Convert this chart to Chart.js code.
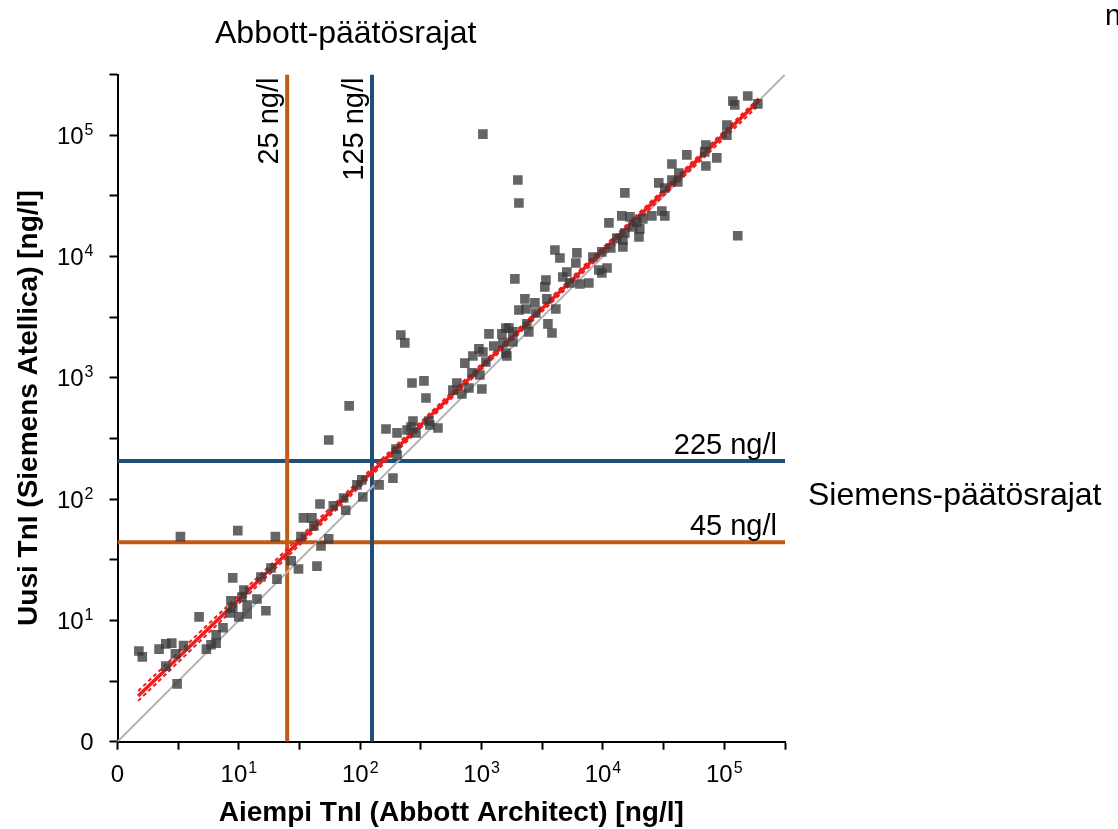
<!DOCTYPE html>
<html lang="fi">
<head>
<meta charset="UTF-8">
<title>Abbott vs Siemens TnI</title>
<style>
  body { margin: 0; background: #fff; }
  #wrap { width: 1118px; height: 829px; }
</style>
</head>
<body>
<div id="wrap"><canvas id="chart" width="1118" height="829"></canvas></div>
<script src="https://cdn.jsdelivr.net/npm/chart.js@4.4.1/dist/chart.umd.min.js"></script>
<script>
// paired samples, ng/l
const abbottValues = [
  1.5, 1.6, 2.2, 2.5, 2.8, 2.5, 3.0, 3.5, 3.1, 4.7, 5.4, 5.9, 6.5, 6.5, 7.4, 8.6, 8.9, 8.9, 10.0, 11.0,
  10.6, 11.7, 11.7, 14.1, 15.2, 16.7, 18.4, 20.6, 20, 9.8, 3.3, 27, 31, 44, 32.5, 47.5, 55, 34, 40, 41.5,
  46.6, 60, 76, 8.5,
  216, 233, 81, 55, 267, 335, 348, 163, 201, 272, 262, 288, 243, 368, 375, 437, 197, 201, 186, 143,
  105, 103, 94, 73, 626, 580, 688, 786, 1005, 728, 848, 950, 1025, 832, 968, 1085, 1150, 1470, 1260, 1585,
  1500, 1585,
  1025, 1990, 2030, 1680, 1810, 1810, 1615, 1880, 2275, 2750, 3450, 4090, 2030, 2320, 2800, 3520, 3800, 2360, 2450, 3390,
  3320, 4020, 6100, 4420, 5980, 4670, 5040, 5340, 6450, 7650, 8260, 9790, 9790, 10800, 9250, 11600, 13000, 14600, 14600, 15150,
  19800, 20100, 17600, 19000, 21300, 16700, 14300, 11200, 15150, 25300, 32350, 30550, 28850, 32350, 37000, 41400, 42200, 37000, 49100, 70500,
  86700, 69000, 70500, 105000, 105000, 117500, 156000, 122000, 189000, 129000
];
const siemensValues = [
  5.6, 5.0, 5.8, 6.4, 6.5, 4.2, 5.3, 6.2, 3.0, 10.7, 5.8, 6.3, 6.5, 7.6, 8.7, 14.5, 12.7, 22.4, 10.7, 17.8,
  15.6, 13.4, 11.3, 15.0, 22.8, 12.0, 27, 21.9, 49, 55, 49, 31, 26.5, 28, 49, 41, 47, 70, 70, 60,
  91, 88, 81, 11.5,
  2250, 1940, 586, 307, 906, 942, 681, 378, 351, 440, 393, 351, 371, 440, 408, 385, 259, 231, 149, 131,
  104, 144, 131, 102, 906, 793, 735, 824, 809, 1320, 1510, 1730, 1630, 1100, 1055, 1350, 2300, 2300, 1830, 2575,
  1940, 1600,
  102000, 42700, 27600, 2575, 2390, 1970, 1510, 6530, 4470, 4140, 4470, 3690, 3620, 3690, 3420, 2780, 2340, 2780, 2390, 6400,
  5610, 11300, 10700, 9720, 8840, 6780, 7450, 6050, 5930, 6050, 9900, 10900, 7310, 8040, 7740, 11750, 14200, 12000, 13700, 15600,
  14500, 16900, 17500, 19200, 20400, 21200, 21600, 18900, 33400, 21600, 21600, 23700, 40400, 36700, 42700, 41100, 48800, 57900, 68700, 55700,
  64900, 72800, 83000, 121000, 100000, 191000, 210000, 177500, 181000, 14800
];

// regression line and its confidence band
const fitX = [1.48, 196000];
const fitY = [2.38, 195000];
const bandX = [1.48, 1000, 196000];
const bandUpperY = [2.62, 1300, 206000];
const bandLowerY = [2.17, 1175, 180000];

// decision limits
const abbottLimits = [25, 125];
const abbottLimitLabels = ['25 ng/l', '125 ng/l'];
const siemensLimits = [206, 44];
const siemensLimitLabels = ['225 ng/l', '45 ng/l'];

// axes
const axisMin = 1;
const axisMax = 316228;
const tickValues = [1, 3.162, 10, 31.62, 100, 316.2, 1000, 3162, 10000, 31623, 100000, 316228];
const tickLabels = ['0', '', '10^1', '', '10^2', '', '10^3', '', '10^4', '', '10^5', ''];

const ORANGE = '#c65911';
const BLUE = '#1f4e79';
const RED = '#ee1c1c';
const FONT = '"Liberation Sans", Arial, sans-serif';

function pairs(xs, ys) {
  return xs.map((v, i) => ({ x: v, y: ys[i] }));
}

const limitDatasets = [];
abbottLimits.forEach((v, i) => {
  limitDatasets.push({
    data: [{ x: v, y: axisMin }, { x: v, y: axisMax }],
    borderColor: i === 0 ? ORANGE : BLUE,
    borderWidth: 4, showLine: true, pointRadius: 0
  });
});
siemensLimits.forEach((v, i) => {
  limitDatasets.push({
    data: [{ x: axisMin, y: v }, { x: axisMax, y: v }],
    borderColor: i === 0 ? BLUE : ORANGE,
    borderWidth: 4, showLine: true, pointRadius: 0
  });
});

// "10" with a raised exponent, like the original axis labels
function drawPowerLabel(ctx, label, px, baseline, align) {
  const parts = label.split('^');
  ctx.font = '24px ' + FONT;
  const bw = ctx.measureText(parts[0]).width;
  let ew = 0;
  if (parts[1]) {
    ctx.font = '16px ' + FONT;
    ew = ctx.measureText(parts[1]).width + 1;
  }
  const left = align === 'center' ? px - (bw + ew) / 2 : px - (bw + ew);
  ctx.font = '24px ' + FONT;
  ctx.fillText(parts[0], left, baseline);
  if (parts[1]) {
    ctx.font = '16px ' + FONT;
    ctx.fillText(parts[1], left + bw + 1, baseline - 9);
  }
}

const labelPlugin = {
  id: 'limitLabels',
  afterDraw(chart) {
    const { ctx, chartArea, scales: { x, y } } = chart;
    ctx.save();
    ctx.fillStyle = '#000';
    ctx.textBaseline = 'alphabetic';
    ctx.textAlign = 'left';

    // tick labels
    tickValues.forEach((v, i) => {
      if (!tickLabels[i]) return;
      drawPowerLabel(ctx, tickLabels[i], x.getPixelForValue(v), chartArea.bottom + 40, 'center');
      drawPowerLabel(ctx, tickLabels[i], chartArea.left - 24, y.getPixelForValue(v) + 8.5, 'right');
    });

    ctx.font = '29px ' + FONT;
    // vertical Abbott limits, rotated text next to the line
    abbottLimits.forEach((v, i) => {
      const px = x.getPixelForValue(v);
      ctx.save();
      ctx.translate(px - 9, chartArea.top + 3);
      ctx.rotate(-Math.PI / 2);
      ctx.textAlign = 'right';
      ctx.fillText(abbottLimitLabels[i], 0, 0);
      ctx.restore();
    });

    // horizontal Siemens limits
    ctx.textAlign = 'right';
    siemensLimits.forEach((v, i) => {
      const py = y.getPixelForValue(v);
      ctx.fillText(siemensLimitLabels[i], chartArea.right - 8, py - 7);
    });

    ctx.textAlign = 'left';
    ctx.font = '32px ' + FONT;
    ctx.fillText('Abbott-päätösrajat', 215, 43);
    ctx.fillText('Siemens-päätösrajat', 808, 505);
    ctx.font = '29px ' + FONT;
    ctx.fillText('n', 1105, 25);
    ctx.restore();
  }
};

function axis(title, isY) {
  return {
    type: 'logarithmic',
    min: axisMin,
    max: axisMax,
    afterBuildTicks(scale) {
      scale.ticks = tickValues.map(v => ({ value: v }));
    },
    afterFit(scale) {
      if (isY) scale.width = 117.5;
      else scale.height = 87.3;
    },
    ticks: {
      autoSkip: false,
      maxRotation: 0,
      // labels are drawn by labelPlugin (raised exponents)
      callback: () => ''
    },
    grid: {
      drawOnChartArea: false,
      drawTicks: true,
      tickLength: 8,
      tickWidth: 2,
      tickColor: '#000'
    },
    border: { display: true, color: '#000', width: 2 },
    title: {
      display: true,
      text: title,
      color: '#000',
      font: { size: 28, weight: 'bold', family: FONT, lineHeight: 1 },
      padding: isY ? { top: 15 } : { bottom: 2 }
    }
  };
}

new Chart(document.getElementById('chart'), {
  type: 'scatter',
  data: {
    datasets: [
      {
        data: pairs(abbottValues, siemensValues),
        pointStyle: 'rect',
        pointRadius: 6.8,
        backgroundColor: 'rgba(58,58,58,0.78)',
        borderWidth: 0
      },
      {
        data: pairs(fitX, fitY),
        showLine: true, pointRadius: 0,
        borderColor: RED, borderWidth: 3.5
      },
      {
        data: pairs(bandX, bandUpperY),
        showLine: true, pointRadius: 0,
        borderColor: RED, borderWidth: 2, borderDash: [4, 3]
      },
      {
        data: pairs(bandX, bandLowerY),
        showLine: true, pointRadius: 0,
        borderColor: RED, borderWidth: 2, borderDash: [4, 3]
      },
      {
        data: [{ x: axisMin, y: axisMin }, { x: axisMax, y: axisMax }],
        showLine: true, pointRadius: 0,
        borderColor: '#b4b4b4', borderWidth: 2
      },
      ...limitDatasets
    ]
  },
  options: {
    responsive: false,
    animation: false,
    events: [],
    devicePixelRatio: 1,
    layout: { padding: { top: 74.5, right: 333, bottom: 0, left: 0 } },
    plugins: {
      legend: { display: false },
      tooltip: { enabled: false }
    },
    scales: {
      x: axis('Aiempi TnI (Abbott Architect) [ng/l]', false),
      y: axis('Uusi TnI (Siemens Atellica) [ng/l]', true)
    }
  },
  plugins: [labelPlugin]
});
</script>
</body>
</html>
